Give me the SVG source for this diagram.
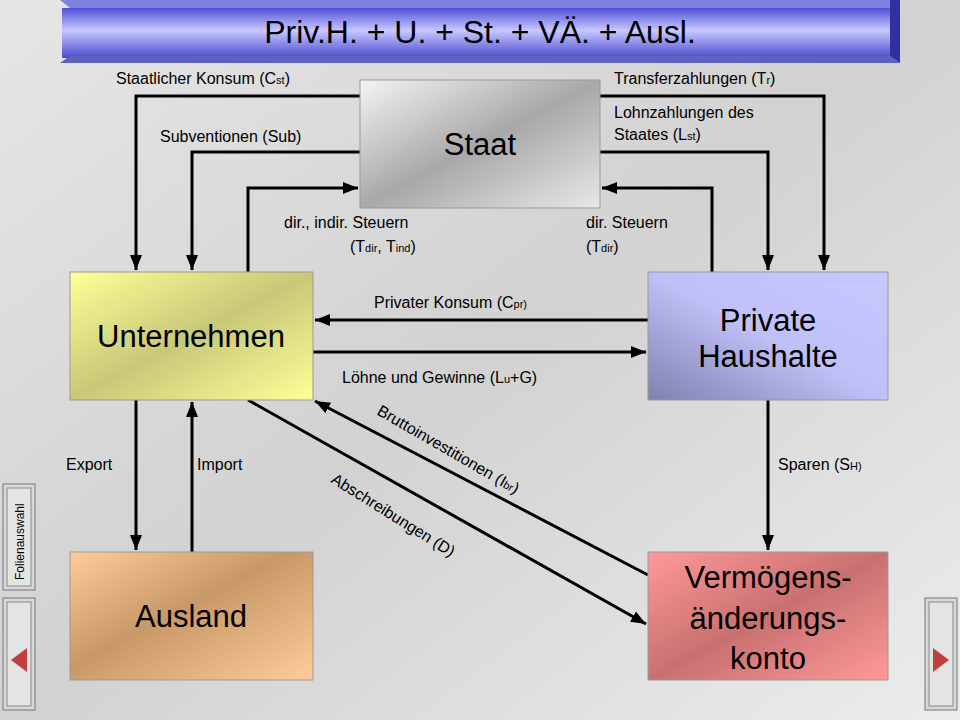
<svg xmlns="http://www.w3.org/2000/svg" width="960" height="720" viewBox="0 0 960 720">
<defs>
<linearGradient id="bg" x1="0" y1="0" x2="1" y2="1"><stop offset="0" stop-color="#e6e6e6"/><stop offset="0.5" stop-color="#d2d2d2"/><stop offset="1" stop-color="#ececec"/></linearGradient>
<linearGradient id="tb" x1="0" y1="0" x2="0" y2="1"><stop offset="0" stop-color="#5050d8"/><stop offset="0.45" stop-color="#c8c8ff"/><stop offset="1" stop-color="#4a4ad0"/></linearGradient>
<linearGradient id="gs" x1="0" y1="0" x2="1" y2="1"><stop offset="0" stop-color="#f4f4f4"/><stop offset="0.5" stop-color="#a8a8a8"/><stop offset="1" stop-color="#e8e8e8"/></linearGradient>
<linearGradient id="gu" x1="0" y1="0" x2="1" y2="1"><stop offset="0" stop-color="#ffff99"/><stop offset="0.5" stop-color="#c8c878"/><stop offset="1" stop-color="#ffff99"/></linearGradient>
<linearGradient id="gp" x1="0" y1="1" x2="1" y2="0"><stop offset="0" stop-color="#8080b0"/><stop offset="0.5" stop-color="#c0c0f8"/><stop offset="1" stop-color="#c8c8ff"/></linearGradient>
<linearGradient id="ga" x1="0" y1="0" x2="1" y2="1"><stop offset="0" stop-color="#ffcc99"/><stop offset="0.45" stop-color="#c89868"/><stop offset="1" stop-color="#ffcc99"/></linearGradient>
<linearGradient id="gv" x1="0" y1="0" x2="1" y2="1"><stop offset="0" stop-color="#ff9999"/><stop offset="0.5" stop-color="#c87070"/><stop offset="1" stop-color="#ff9999"/></linearGradient>
<marker id="ar" viewBox="0 0 10 10" refX="10" refY="5" markerWidth="5" markerHeight="5" orient="auto"><path d="M0,1 L10,5 L0,9 z" fill="#000"/></marker>
</defs>
<style>
.t{font-family:"Liberation Sans",Arial,sans-serif;fill:#000}
.n{font-size:31px;text-anchor:middle}
.l{font-size:16px}
.s{font-size:11px}
.c{fill:none;stroke:#000;stroke-width:3;marker-end:url(#ar)}
.box{stroke:#999;stroke-width:1}
</style>
<rect width="960" height="720" fill="url(#bg)"/>
<g id="title">
<polygon points="60,0 900,0 890,8 70,8" fill="#8080e0"/>
<rect x="62" y="8" width="830" height="50" fill="url(#tb)"/>
<polygon points="60,63 900,63 890,56 70,56" fill="#6060c0"/>
<polygon points="890,0 900,0 900,63 890,56" fill="#3030a0"/>
<text class="t" x="480" y="43" font-size="32" text-anchor="middle">Priv.H. + U. + St. + VÄ. + Ausl.</text>
</g>
<g id="connectors">
<polyline class="c" points="360,96 136,96 136,270"/>
<polyline class="c" points="360,152 192,152 192,270"/>
<polyline class="c" points="248,272 248,188 358,188"/>
<polyline class="c" points="600,96 824,96 824,270"/>
<polyline class="c" points="600,152 768,152 768,270"/>
<polyline class="c" points="712,272 712,188 602,188"/>
<line class="c" x1="648" y1="320" x2="315" y2="320"/>
<line class="c" x1="313" y1="352" x2="646" y2="352"/>
<line class="c" x1="136" y1="400" x2="136" y2="550"/>
<line class="c" x1="192" y1="552" x2="192" y2="402"/>
<line class="c" x1="768" y1="400" x2="768" y2="550"/>
<line class="c" x1="648" y1="575" x2="315" y2="401"/>
<line class="c" x1="248" y1="400" x2="646" y2="624"/>
</g>
<g id="labels" class="t l">
<text x="116" y="84">Staatlicher Konsum (C<tspan class="s">st</tspan>)</text>
<text x="160" y="142">Subventionen (Sub)</text>
<text x="614" y="84">Transferzahlungen (T<tspan class="s">r</tspan>)</text>
<text x="614" y="118">Lohnzahlungen des</text>
<text x="614" y="140">Staates (L<tspan class="s">st</tspan>)</text>
<text x="284" y="228">dir., indir. Steuern</text>
<text x="350" y="252">(T<tspan class="s">dir</tspan>, T<tspan class="s">ind</tspan>)</text>
<text x="586" y="228">dir. Steuern</text>
<text x="586" y="252">(T<tspan class="s">dir</tspan>)</text>
<text x="374" y="308">Privater Konsum (C<tspan class="s">pr)</tspan></text>
<text x="342" y="383">Löhne und Gewinne (L<tspan class="s">u</tspan>+G)</text>
<text x="66" y="470">Export</text>
<text x="197" y="470">Import</text>
<text x="778" y="470">Sparen (S<tspan class="s">H)</tspan></text>
<text transform="translate(376,414) rotate(30)">Bruttoinvestitionen (I<tspan class="s">br</tspan>)</text>
<text transform="translate(330,482) rotate(32)">Abschreibungen (D)</text>
</g>
<g id="staat"><rect class="box" x="360" y="80" width="240" height="128" fill="url(#gs)"/><text class="t n" x="480" y="155">Staat</text></g>
<g id="unternehmen"><rect class="box" x="70" y="272" width="243" height="128" fill="url(#gu)"/><text class="t n" x="191" y="347">Unternehmen</text></g>
<g id="haushalte"><rect class="box" x="648" y="272" width="240" height="128" fill="url(#gp)"/><text class="t n" x="768" y="331">Private</text><text class="t n" x="768" y="367">Haushalte</text></g>
<g id="ausland"><rect class="box" x="70" y="552" width="243" height="128" fill="url(#ga)"/><text class="t n" x="191" y="627">Ausland</text></g>
<g id="vaek"><rect class="box" x="648" y="552" width="240" height="128" fill="url(#gv)"/><text class="t n" x="768" y="588">Vermögens-</text><text class="t n" x="768" y="629">änderungs-</text><text class="t n" x="768" y="669">konto</text></g>
<g id="nav">
<rect x="3" y="484" width="32" height="106" fill="#d8d8d8" stroke="#777"/><rect x="7" y="488" width="24" height="98" fill="#e4e4e4" stroke="#888"/>
<text class="t" font-size="12" transform="translate(24,580) rotate(-90)">Folienauswahl</text>
<rect x="3" y="598" width="32" height="112" fill="#d8d8d8" stroke="#777"/><rect x="7" y="602" width="24" height="104" fill="#e4e4e4" stroke="#888"/>
<polygon points="11,660 27,648 27,672" fill="#c04040"/>
<rect x="925" y="598" width="32" height="112" fill="#d8d8d8" stroke="#777"/><rect x="929" y="602" width="24" height="104" fill="#e4e4e4" stroke="#888"/>
<polygon points="949,660 933,648 933,672" fill="#c04040"/>
</g>
</svg>
